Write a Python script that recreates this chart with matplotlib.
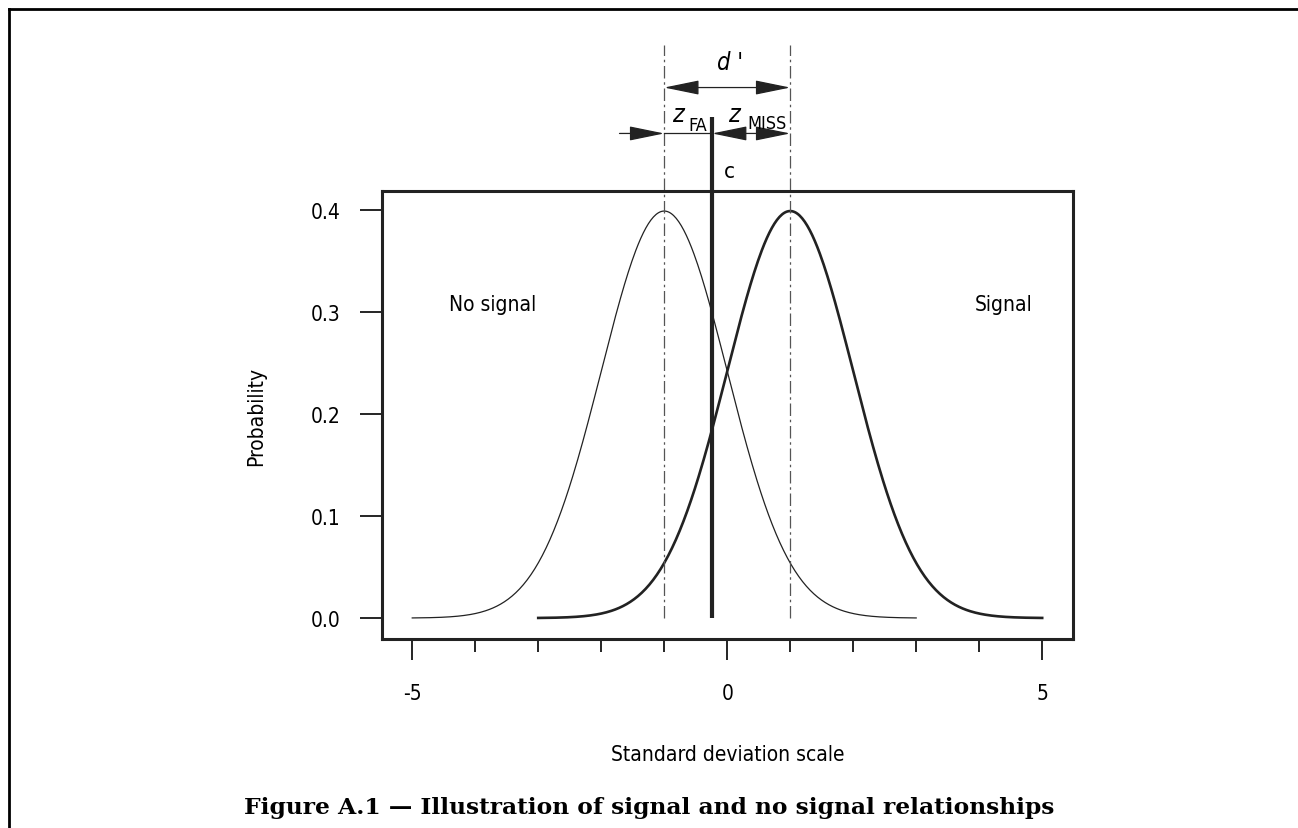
import numpy as np
import matplotlib
matplotlib.use("Agg")
import matplotlib.pyplot as plt
from matplotlib.lines import Line2D

plt.rcParams['font.family'] = ['DejaVu Sans']
plt.rcParams['font.stretch'] = 'condensed'

# distributions (mean, sd, drawn range)
noise_mean, noise_sd, noise_range = -1.0, 1.0, (-5.0, 3.0)
signal_mean, signal_sd, signal_range = 1.0, 1.0, (-3.0, 5.0)
criterion = -0.24
x_ticks_major = [-5, 0, 5]
x_ticks_minor = [-4, -3, -2, -1, 1, 2, 3, 4]
y_ticks = [0.0, 0.1, 0.2, 0.3, 0.4]
y_ticklabels = ["0.0", "0.1", "0.2", "0.3", "0.4"]


def pdf(x, m, s):
    return np.exp(-0.5 * ((x - m) / s) ** 2) / (s * np.sqrt(2 * np.pi))


fig = plt.figure(figsize=(12.98, 8.29), dpi=100)
ax = fig.add_axes([0.2943, 0.228, 0.5324, 0.5404])

xn = np.linspace(*noise_range, 400)
xs = np.linspace(*signal_range, 400)
ax.plot(xn, pdf(xn, noise_mean, noise_sd), color='#222222', lw=0.9)
ax.plot(xs, pdf(xs, signal_mean, signal_sd), color='#222222', lw=1.9)

# criterion line
ax.plot([criterion, criterion], [0, 0.491], color='#222222', lw=3.0,
        clip_on=False, solid_capstyle='butt')

# dash-dot lines at the means
for m in (noise_mean, signal_mean):
    ax.plot([m, m], [0, 0.562], color='#555555', lw=0.9,
            ls=(0, (10, 3, 2, 3)), clip_on=False)

aprops = dict(color='#222222', lw=0.9, shrinkA=0, shrinkB=0, mutation_scale=10)

# d' arrow
ax.annotate('', xy=(signal_mean, 0.52), xytext=(noise_mean, 0.52),
            arrowprops=dict(arrowstyle='<|-|>,head_length=2.2,head_width=0.45', **aprops),
            annotation_clip=False)
ax.text(0.05, 0.545, "d '", style='italic', fontsize=17, ha='center', va='center')

# z_FA / z_MISS arrows
yz = 0.475
ax.annotate('', xy=(noise_mean, yz), xytext=(-1.71, yz),
            arrowprops=dict(arrowstyle='-|>,head_length=2.2,head_width=0.45', **aprops),
            annotation_clip=False)
ax.plot([noise_mean, criterion], [yz, yz], color='#222222', lw=0.9, clip_on=False)
ax.annotate('', xy=(criterion, yz), xytext=(signal_mean, yz),
            arrowprops=dict(arrowstyle='<|-|>,head_length=2.2,head_width=0.45', **aprops),
            annotation_clip=False)
ax.text(-0.79, 0.494, "z", style='italic', fontsize=18, ha='center', va='center')
ax.text(-0.47, 0.483, "FA", fontsize=13, ha='center', va='center')
ax.text(0.11, 0.494, "z", style='italic', fontsize=18, ha='center', va='center')
ax.text(0.63, 0.485, "MISS", fontsize=13, ha='center', va='center')
ax.text(0.03, 0.438, "c", fontsize=16, ha='center', va='center')

ax.text(-3.73, 0.308, "No signal", fontsize=15, ha='center', va='center')
ax.text(4.38, 0.308, "Signal", fontsize=15, ha='center', va='center')

ax.set_xlim(-5.48, 5.49)
ax.set_ylim(-0.0205, 0.4186)
ax.set_xticks(x_ticks_major)
ax.set_xticklabels([str(t) for t in x_ticks_major], fontsize=15)
ax.set_xticks(x_ticks_minor, minor=True)
ax.set_yticks(y_ticks)
ax.set_yticklabels(y_ticklabels, fontsize=15)
ax.tick_params(axis='x', which='major', length=15, width=1.2, pad=17, direction='out')
ax.tick_params(axis='x', which='minor', length=9, width=1.2, direction='out')
ax.tick_params(axis='y', length=16, width=1.2, pad=14, direction='out')
for s in ax.spines.values():
    s.set_linewidth(2.2)
    s.set_color('#222222')

ax.set_xlabel("Standard deviation scale", fontsize=15, labelpad=29)
ax.set_ylabel("Probability", fontsize=15, labelpad=32)

fig.text(0.5, 0.025, "Figure A.1 \u2014 Illustration of signal and no signal relationships",
         family='DejaVu Serif', fontstretch='normal', fontweight='bold', fontsize=16.8,
         ha='center', va='center')

# page border (left and top)
fig.add_artist(Line2D([9 / 1298, 9 / 1298], [0, 1 - 10 / 829], color='black', lw=2,
                      transform=fig.transFigure))
fig.add_artist(Line2D([9 / 1298, 1], [1 - 10 / 829, 1 - 10 / 829], color='black', lw=2,
                      transform=fig.transFigure))

fig.savefig("out.png", dpi=100)
